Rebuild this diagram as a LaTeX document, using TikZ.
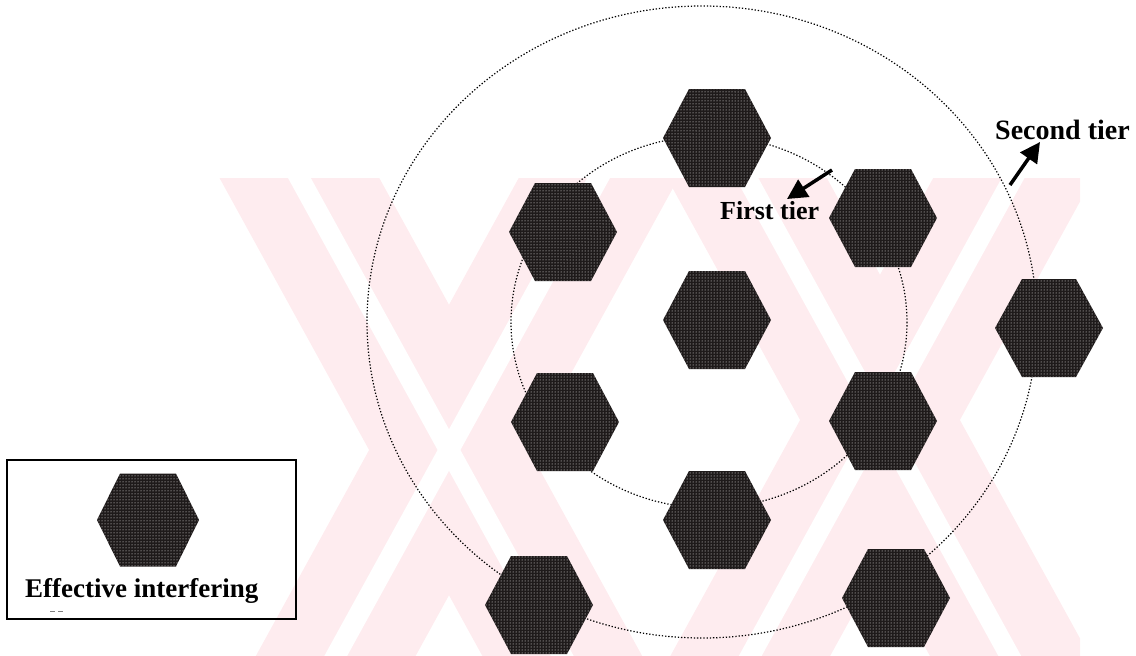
\documentclass[tikz,border=0pt]{standalone}
\usepackage{fontspec}
\setmainfont{Liberation Serif}
\usetikzlibrary{arrows.meta,patterns}
\definecolor{wmpink}{RGB}{254,236,239}
\definecolor{hexgray}{RGB}{30,26,26}
\tikzset{
  tierline/.style={line width=1.2pt, dash pattern=on 1.3pt off 1.9pt},
  hexbody/.style={fill=hexgray},
  hexdots/.style={pattern=dots, pattern color=white},
  tierarrow/.style={line width=3.5pt, -{Triangle[length=20pt,width=20pt]}},
  tierlabel/.style={font=\bfseries\fontsize{26}{30}\selectfont, inner sep=0pt, anchor=base west},
  wmband/.style={wmpink, line width=140pt},
  wmgap/.style={white, line width=20pt},
}
% name, cx, cy, half width, half top edge, half height
\newcommand{\hexcell}[6]{%
  \coordinate (#1) at (#2,#3);
  \fill[hexbody] (#1) +(-#4,0) -- +(-#5,-#6) -- +(#5,-#6) -- +(#4,0) -- +(#5,#6) -- +(-#5,#6) -- cycle;
  \fill[hexdots] (#1) +(-#4,0) -- +(-#5,-#6) -- +(#5,-#6) -- +(#4,0) -- +(#5,#6) -- +(-#5,#6) -- cycle;
}
\begin{document}
\begin{tikzpicture}[x=1pt,y=-1pt]
\useasboundingbox (0,0) rectangle (1136,656);
% watermark
\begin{scope}
  \clip (150,178) rectangle (1080,656);
  \draw[wmband] (174,-50) -- (724,950);
  \draw[wmband] (724,-50) -- (174,950);
  \draw[wmband] (605,-80) -- (1155,920);
  \draw[wmband] (1155,-80) -- (605,920);
  \draw[wmgap] (174,-50) -- (724,950);
  \draw[wmgap] (724,-50) -- (174,950);
  \draw[wmgap] (605,-80) -- (1155,920);
  \draw[wmgap] (1155,-80) -- (605,920);
\end{scope}
% tiers
\coordinate (outerc) at (702,322);
\coordinate (innerc) at (709,322);
\draw[tierline] (outerc) ellipse [x radius=335, y radius=316];
\draw[tierline] (innerc) ellipse [x radius=198, y radius=186];
% cells
\hexcell{top}{717}{138}{54}{28}{49}
\hexcell{ul}{563}{232}{54}{28}{49}
\hexcell{ur}{883}{218}{54}{28}{49}
\hexcell{ctr}{717}{320}{54}{28}{49}
\hexcell{ll}{565}{422}{54}{28}{49}
\hexcell{lr}{883}{421}{54}{28}{49}
\hexcell{bot}{717}{520}{54}{28}{49}
\hexcell{right}{1049}{328}{54}{27}{49}
\hexcell{bl}{539}{605}{54}{28}{49}
\hexcell{br}{896}{598}{54}{28}{49}
% labels and arrows
\node[tierlabel] (first) at (720,219) {First tier};
\node[tierlabel, font=\bfseries\fontsize{28}{32}\selectfont] (second) at (995,139) {Second tier};
\coordinate (fa) at (832,170);
\coordinate (fb) at (787,199);
\coordinate (sa) at (1010,185);
\coordinate (sb) at (1040,142);
\draw[tierarrow] (fa) -- (fb);
\draw[tierarrow] (sa) -- (sb);
% legend
\node[draw, line width=1.4pt, minimum width=289pt, minimum height=159pt, inner sep=0pt] (legend) at (151.5,539.5) {};
\hexcell{lghex}{148}{520}{51}{28}{46.5}
\node[tierlabel, font=\bfseries\fontsize{27}{31}\selectfont] (lgtext) at (25,597) {Effective interfering};
\draw[gray, line width=0.8pt] (50,611) -- (55,611) (58,611) -- (63,611);
\end{tikzpicture}
\end{document}
